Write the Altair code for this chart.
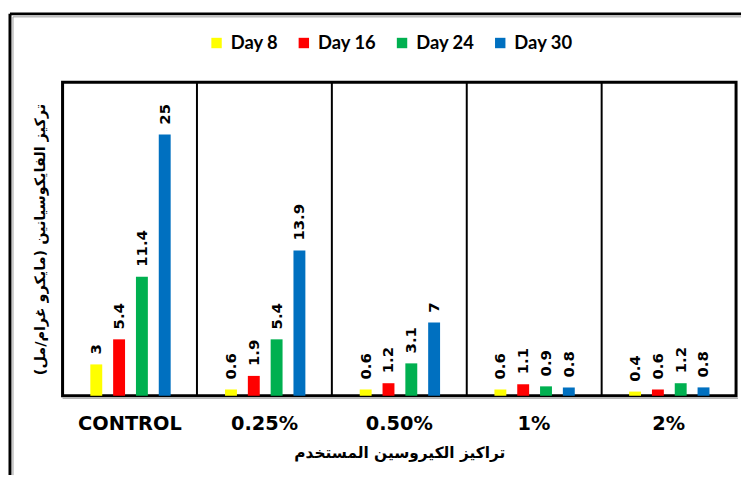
import altair as alt
import pandas as pd

categories = ["CONTROL", "0.25%", "0.50%", "1%", "2%"]
series = ["Day 8", "Day 16", "Day 24", "Day 30"]
day8 = [3, 0.6, 0.6, 0.6, 0.4]
day16 = [5.4, 1.9, 1.2, 1.1, 0.6]
day24 = [11.4, 5.4, 3.1, 0.9, 1.2]
day30 = [25, 13.9, 7, 0.8, 0.8]
colors = ["#FFFF00", "#FF0000", "#00B050", "#0070C0"]

x_title = "تراكيز الكيروسين المستخدم"
y_title = "تركيز الفايكوسيانين (مايكرو غرام/مل)"

rows = []
for s, vals in zip(series, [day8, day16, day24, day30]):
    for c, v in zip(categories, vals):
        rows.append({"cat": c, "series": s, "value": v, "label": f"{v:g}"})
df = pd.DataFrame(rows)

W, H = 679, 316

x = alt.X(
    "cat:N", sort=categories, title=x_title,
    scale=alt.Scale(paddingInner=0, paddingOuter=0),
    axis=alt.Axis(
        labelAngle=0, ticks=False, domain=False, grid=True, bandPosition=0,
        gridColor="black", gridWidth=2, gridOpacity=1,
        labelFont="DejaVu Sans", labelFontWeight="bold", labelFontSize=19.5,
        labelColor="black", labelPadding=19,
        titleFont="DejaVu Sans", titleFontWeight="bold", titleFontSize=15.5,
        titleColor="black", titlePadding=13,
    ),
)
xo_scale = alt.Scale(range=[28, 109], paddingInner=0.478, paddingOuter=0)
xo = alt.XOffset("series:N", sort=series, scale=xo_scale)
y = alt.Y(
    "value:Q", scale=alt.Scale(domain=[0, 30], nice=False), title=y_title,
    axis=alt.Axis(labels=False, ticks=False, domain=False, grid=False,
                  titleFont="DejaVu Sans", titleFontWeight="bold",
                  titleFontSize=14.5, titleColor="black", titlePadding=15),
)
color = alt.Color(
    "series:N", sort=series,
    scale=alt.Scale(domain=series, range=colors),
    legend=alt.Legend(
        title=None, orient="none", legendX=146, legendY=-49,
        direction="horizontal", symbolType="square", symbolSize=110,
        symbolStrokeWidth=0, labelFont="Lato", labelFontWeight="bold",
        labelFontSize=18.5, labelColor="black", labelOffset=5,
        columnPadding=16, padding=0,
    ),
)

base = alt.Chart(df)
bars = base.mark_bar().encode(x=x, xOffset=xo, y=y, color=color)
labels = base.mark_text(
    angle=270, align="left", baseline="middle", dx=10,
    font="DejaVu Sans", fontWeight="bold", fontSize=15, color="black",
).encode(x=alt.X("cat:N", sort=categories), xOffset=alt.XOffset("series:N", sort=series),
         y="value:Q", text="label:N")

frame_df = pd.DataFrame({"k": [0]})
left = alt.Chart(frame_df).mark_rule(color="black", strokeWidth=3).encode(
    x=alt.value(-53), y=alt.value(-69), y2=alt.value(H + 80))
top = alt.Chart(frame_df).mark_rule(color="black", strokeWidth=3).encode(
    x=alt.value(-53), x2=alt.value(W + 5), y=alt.value(-69))
left2 = alt.Chart(frame_df).mark_rule(color="#9a9a9a", strokeWidth=1).encode(
    x=alt.value(-50), y=alt.value(-66), y2=alt.value(H + 80))
top2 = alt.Chart(frame_df).mark_rule(color="#9a9a9a", strokeWidth=1).encode(
    x=alt.value(-50), x2=alt.value(W + 5), y=alt.value(-66))
base2 = alt.Chart(frame_df).mark_rule(color="#9a9a9a", strokeWidth=1).encode(
    x=alt.value(0), x2=alt.value(W + 2), y=alt.value(H + 2.5))

chart = alt.layer(bars, labels, left, top, left2, top2, base2).properties(
    width=W, height=H,
    padding={"left": 0, "top": 2, "right": 0, "bottom": 0},
).configure_view(stroke="black", strokeWidth=3)

chart.save("out.html", embed_options={"renderer": "svg", "actions": False})
